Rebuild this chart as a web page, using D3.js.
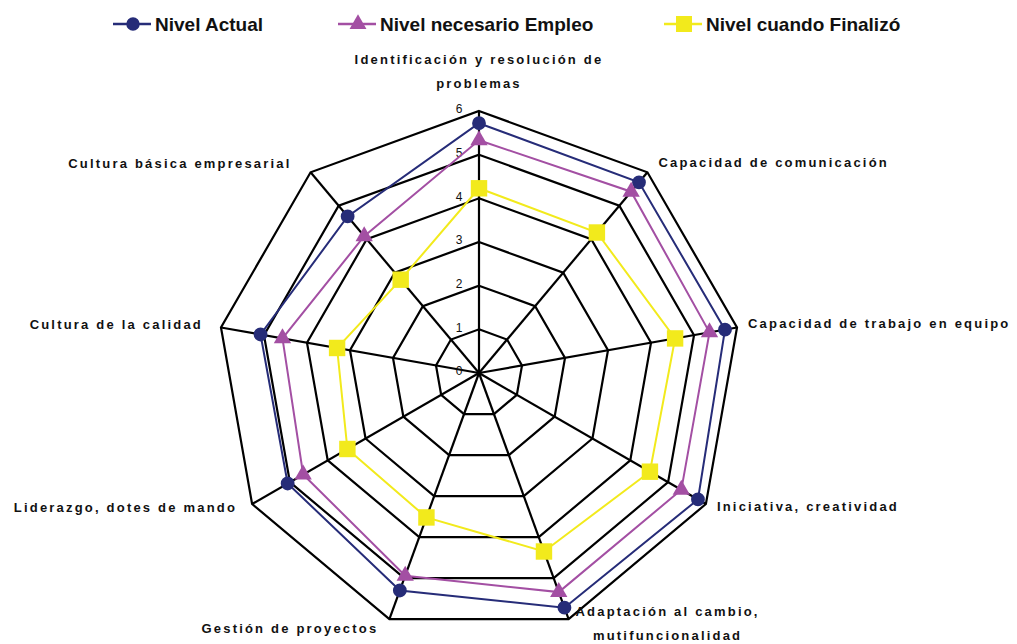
<!DOCTYPE html>
<html>
<head>
<meta charset="utf-8">
<script src="https://cdn.jsdelivr.net/npm/d3@7"></script>
<style>
  html, body { margin: 0; padding: 0; background: #fff; }
  svg { display: block; }
</style>
</head>
<body>
<svg id="chart" width="1017" height="644"></svg>
<script>
// ---- DATA ----
const axesLabels = [
  ["Identificación y resolución de", "problemas"],
  ["Capacidad de comunicación"],
  ["Capacidad de trabajo en equipo"],
  ["Iniciativa, creatividad"],
  ["Adaptación al cambio,", "mutifuncionalidad"],
  ["Gestión de proyectos"],
  ["Liderazgo, dotes de mando"],
  ["Cultura de la calidad"],
  ["Cultura básica empresarial"]
];
const seriesNames = ["Nivel Actual", "Nivel necesario Empleo", "Nivel cuando Finalizó"];
const nivelActual    = [5.72, 5.70, 5.72, 5.79, 5.72, 5.30, 5.06, 5.08, 4.68];
const nivelNecesario = [5.33, 5.42, 5.36, 5.35, 5.34, 4.94, 4.65, 4.57, 4.09];
const nivelFinalizo  = [4.23, 4.20, 4.56, 4.52, 4.35, 3.52, 3.48, 3.30, 2.79];
const tickValues = [0, 1, 2, 3, 4, 5, 6];

// ---- LAYOUT ----
const svg = d3.select("#chart");
const cx = 479, cy = 373, R = 262;
const n = axesLabels.length;
const rScale = d3.scaleLinear().domain([0, 6]).range([0, R]);
const angle = d3.scaleLinear().domain([0, n]).range([0, 2 * Math.PI]);
const pt = (i, v) => [cx + rScale(v) * Math.sin(angle(i)), cy - rScale(v) * Math.cos(angle(i))];

const colors = ["#262C78", "#A34FA3", "#F2EA1C"];
const seriesData = [nivelActual, nivelNecesario, nivelFinalizo];
const symbols = [d3.symbolCircle, d3.symbolTriangle, d3.symbolSquare];
const symSizes = [150, 130, 270];

const g = svg.append("g");

// grid polygons
const lineGen = d3.line().curve(d3.curveLinearClosed);
tickValues.slice(1).forEach(t => {
  g.append("path")
    .attr("d", lineGen(d3.range(n).map(i => pt(i, t))))
    .attr("fill", "none").attr("stroke", "#000").attr("stroke-width", 2.2)
    .attr("stroke-linejoin", "miter");
});
// spokes
d3.range(n).forEach(i => {
  const p = pt(i, 6);
  g.append("line").attr("x1", cx).attr("y1", cy).attr("x2", p[0]).attr("y2", p[1])
    .attr("stroke", "#000").attr("stroke-width", 2.2);
});

// tick labels
g.selectAll("text.tick").data(tickValues).enter().append("text")
  .attr("class", "tick")
  .attr("x", cx - 20)
  .attr("y", d => cy - rScale(d) - 1)
  .attr("text-anchor", "middle")
  .attr("dominant-baseline", "middle")
  .attr("font-family", "Liberation Sans, Arial, sans-serif")
  .attr("font-size", 12).attr("fill", "#111")
  .text(d => d);

// series
seriesData.forEach((vals, s) => {
  g.append("path")
    .attr("d", lineGen(vals.map((v, i) => pt(i, v))))
    .attr("fill", "none").attr("stroke", colors[s]).attr("stroke-width", 2);
});
seriesData.forEach((vals, s) => {
  g.selectAll(null).data(vals).enter().append("path")
    .attr("d", d3.symbol().type(symbols[s]).size(symSizes[s]))
    .attr("transform", (v, i) => { const p = pt(i, v); return `translate(${p[0]},${p[1]})`; })
    .attr("fill", colors[s]);
});

// axis labels
const labelLayout = [
  {dx: 0, dy: -47, anchor: "middle"},
  {dx: 11, dy: -5, anchor: "start"},
  {dx: 11, dy: 0, anchor: "start"},
  {dx: 11, dy: 7, anchor: "start"},
  {dx: 99, dy: -3, anchor: "middle"},
  {dx: -11, dy: 14, anchor: "end"},
  {dx: -15, dy: 8, anchor: "end"},
  {dx: -18, dy: 1, anchor: "end"},
  {dx: -19, dy: -4, anchor: "end"}
];
axesLabels.forEach((lines, i) => {
  const p = pt(i, 6);
  const L = labelLayout[i];
  const t = g.append("text")
    .attr("x", p[0] + L.dx).attr("y", p[1] + L.dy)
    .attr("text-anchor", L.anchor)
    .attr("font-family", "Liberation Sans, Arial, sans-serif")
    .attr("font-size", 13).attr("font-weight", "bold")
    .attr("letter-spacing", 2.2)
    .attr("fill", "#111");
  lines.forEach((ln, k) => {
    t.append("tspan").attr("x", p[0] + L.dx).attr("dy", k === 0 ? 0 : 24).text(ln);
  });
});

// legend
const legendX = [113, 338, 664];
const legend = svg.append("g");
seriesNames.forEach((name, s) => {
  const x0 = legendX[s], y0 = 24;
  legend.append("line").attr("x1", x0).attr("x2", x0 + 38).attr("y1", y0).attr("y2", y0)
    .attr("stroke", colors[s]).attr("stroke-width", 2.5);
  legend.append("path")
    .attr("d", d3.symbol().type(symbols[s]).size(symSizes[s] * 0.95))
    .attr("transform", `translate(${x0 + 20},${y0})`)
    .attr("fill", colors[s]);
  legend.append("text")
    .attr("x", x0 + 42).attr("y", y0 + 6.5)
    .attr("font-family", "Liberation Sans Narrow, Arial Narrow, Liberation Sans, sans-serif")
    .attr("font-size", 19).attr("font-weight", "bold")
    .attr("fill", "#111")
    .text(name);
});
</script>
</body>
</html>
